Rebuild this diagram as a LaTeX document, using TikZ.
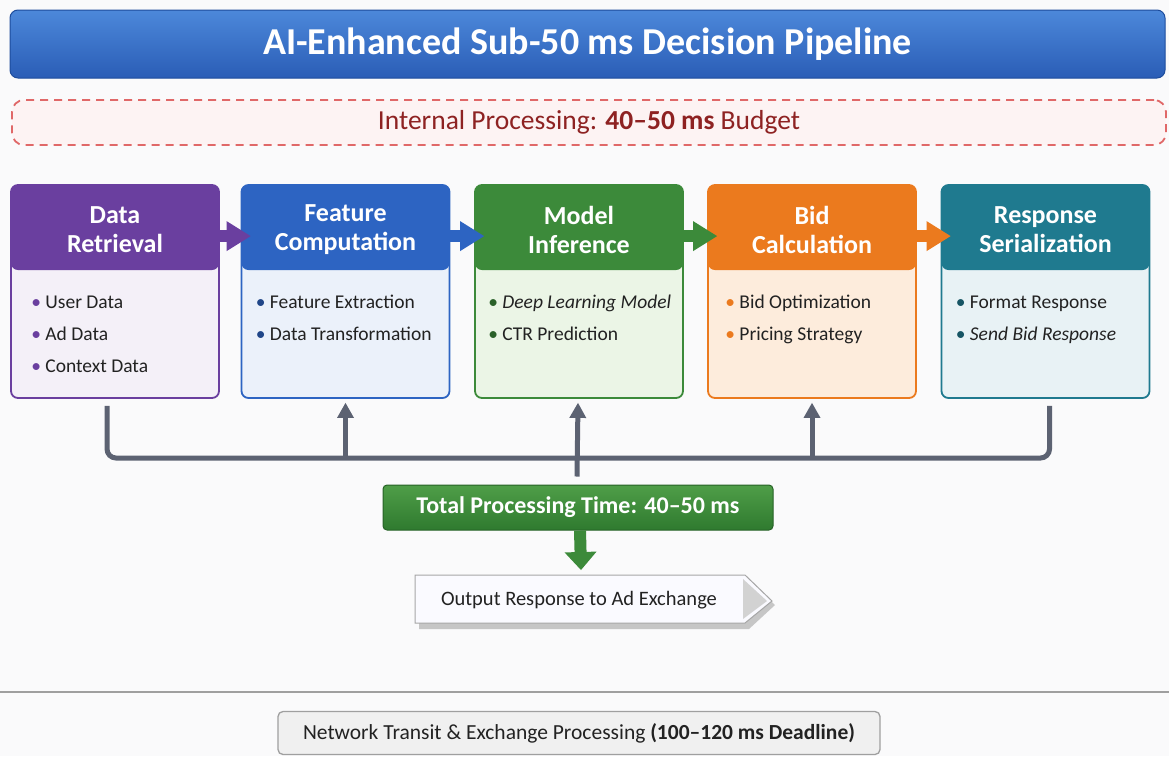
\documentclass[tikz,border=0pt]{standalone}
\usepackage{fontspec}
\setmainfont{Carlito}
\usetikzlibrary{arrows.meta}
\definecolor{bgc}{HTML}{FAFAFB}
\definecolor{titleT}{HTML}{4C88DA}
\definecolor{titleB}{HTML}{2A5DB6}
\definecolor{titleD}{HTML}{1D4C9C}
\definecolor{dashR}{HTML}{E06868}
\definecolor{dashF}{HTML}{FDF3F3}
\definecolor{budR}{HTML}{8E2222}
\definecolor{pH}{HTML}{6A3F9F}\definecolor{pB}{HTML}{F4F0F8}
\definecolor{bH}{HTML}{2D64C2}\definecolor{bB}{HTML}{EBF1FA}
\definecolor{gH}{HTML}{3C8A3A}\definecolor{gB}{HTML}{EBF5E6}
\definecolor{oH}{HTML}{EB7A1E}\definecolor{oB}{HTML}{FDECDC}
\definecolor{tH}{HTML}{1F7A8F}\definecolor{tB}{HTML}{E8F2F5}
\definecolor{txt}{HTML}{222222}
\definecolor{conn}{HTML}{5C6272}
\definecolor{totT}{HTML}{4F9E48}\definecolor{totB}{HTML}{2F7A2F}
\tikzset{
  stage/.style n args={2}{rectangle, rounded corners=7pt, minimum width=208pt,
    minimum height=213pt, inner sep=0pt, fill=#2, draw=#1, line width=1.8pt,
    path picture={\fill[#1] (path picture bounding box.north west) rectangle ([yshift=-85pt]path picture bounding box.north east);}},
  hdr/.style={text=white, align=center, inner sep=0pt, font=\bfseries\fontsize{26}{29}\selectfont},
  items/.style={anchor=base west, align=left, text=txt, inner sep=0pt, font=\fontsize{19.5}{32}\selectfont},
  flow/.style={draw=#1, line width=12pt, -{Triangle[width=30pt,length=24pt,line width=0pt]}},
  bus/.style={draw=conn, line width=5pt},
  uparrow/.style={draw=conn, line width=5pt, -{Triangle[width=17pt,length=15pt,line width=0pt]}},
}
\begin{document}
\begin{tikzpicture}[x=1pt,y=-1pt]
\useasboundingbox (0,0) rectangle (1169,756);
\fill[bgc] (0,0) rectangle (1169,756);
% title
\node[rectangle, rounded corners=8pt, minimum width=1155pt, minimum height=68pt,
  top color=titleT, bottom color=titleB, draw=titleD, line width=1pt,
  text=white, font=\bfseries\fontsize{38}{42}\selectfont] (title) at (587.5,44) {AI-Enhanced Sub-50 ms Decision Pipeline};
% budget
\node[rectangle, rounded corners=12pt, minimum width=1154pt, minimum height=45pt,
  fill=dashF, draw=dashR, line width=1.8pt, dash pattern=on 8pt off 6pt,
  text=budR, font=\fontsize{27.5}{30}\selectfont] (budget) at (589,122.5) {Internal Processing: \textbf{40--50 ms} Budget};
% stages
\node[stage={pH}{pB}] (s1) at (115,291.5) {};
\node[stage={bH}{bB}] (s2) at (345.5,291.5) {};
\node[stage={gH}{gB}] (s3) at (579,291.5) {};
\node[stage={oH}{oB}] (s4) at (812,291.5) {};
\node[stage={tH}{tB}] (s5) at (1045.5,291.5) {};
\node[hdr] (h1) at ([yshift=-46pt]s1.north) {Data\\Retrieval};
\node[hdr] (h2) at ([yshift=-46pt]s2.north) {Feature\\Computation};
\node[hdr] (h3) at ([yshift=-46pt]s3.north) {Model\\Inference};
\node[hdr] (h4) at ([yshift=-46pt]s4.north) {Bid\\Calculation};
\node[hdr] (h5) at ([yshift=-46pt]s5.north) {Response\\Serialization};
\node[items] (i1) at ([xshift=21pt,yshift=-188pt]s1.north west)
  {\textcolor{pH}{\textbullet}\ User Data\\\textcolor{pH}{\textbullet}\ Ad Data\\\textcolor{pH}{\textbullet}\ Context Data};
\node[items] (i2) at ([xshift=15pt,yshift=-156pt]s2.north west)
  {\textcolor{bH!70!black}{\textbullet}\ Feature Extraction\\\textcolor{bH!70!black}{\textbullet}\ Data Transformation};
\node[items] (i3) at ([xshift=14pt,yshift=-156pt]s3.north west)
  {\textcolor{gH!70!black}{\textbullet}\ \textit{Deep Learning Model}\\\textcolor{gH!70!black}{\textbullet}\ CTR Prediction};
\node[items] (i4) at ([xshift=18pt,yshift=-156pt]s4.north west)
  {\textcolor{oH}{\textbullet}\ Bid Optimization\\\textcolor{oH}{\textbullet}\ Pricing Strategy};
\node[items] (i5) at ([xshift=15pt,yshift=-156pt]s5.north west)
  {\textcolor{tH!70!black}{\textbullet}\ Format Response\\\textcolor{tH!70!black}{\textbullet}\ \textit{Send Bid Response}};
% flow arrows
\draw[flow=pH] ([xshift=-11pt,yshift=-52pt]s1.north east) -- ([xshift=10pt,yshift=-52pt]s2.north west);
\draw[flow=bH] ([xshift=-11pt,yshift=-52pt]s2.north east) -- ([xshift=10pt,yshift=-52pt]s3.north west);
\draw[flow=gH] ([xshift=-11pt,yshift=-52pt]s3.north east) -- ([xshift=10pt,yshift=-52pt]s4.north west);
\draw[flow=oH] ([xshift=-11pt,yshift=-52pt]s4.north east) -- ([xshift=10pt,yshift=-52pt]s5.north west);
% total
\node[rectangle, rounded corners=4pt, minimum width=390pt, minimum height=45pt,
  top color=totT, bottom color=totB, draw=totB!80!black, line width=1pt,
  text=white, font=\fontsize{24}{27}\selectfont] (tot) at (578,507.5) {\textbf{Total Processing Time: 40--50 ms}};
% bus
\coordinate (cL) at ([xshift=-8pt,yshift=-7pt]s1.south);
\coordinate (cR) at ([xshift=4pt,yshift=-7pt]s5.south);
\coordinate (busL) at (107,458);
\draw[bus, rounded corners=9pt] (cL) -- (cL |- busL) -- (cR |- busL) -- (cR);
\draw[uparrow] (s2.south |- busL) -- ([yshift=-4pt]s2.south);
\draw[uparrow] ([xshift=-1pt,yshift=8pt]tot.north) -- ([xshift=-1pt,yshift=-4pt]s3.south);
\draw[uparrow] (s4.south |- busL) -- ([yshift=-4pt]s4.south);
% output
\fill[gray!45] (419,580) -- (749,580) -- (775,605) -- (749,629) -- (419,629) -- cycle;
\filldraw[fill=white!95!blue!40!white, draw=gray!70, line width=1pt] (415,575) -- (745,575) -- (772,601) -- (745,623) -- (415,623) -- cycle;
\fill[gray!35] (743,579) -- (767,601) -- (743,619) -- cycle;
\node[text=txt, font=\fontsize{20.5}{24}\selectfont] (out) at (579,600) {Output Response to Ad Exchange};
\draw[draw=gH, line width=12pt, -{Triangle[width=32pt,length=18pt,line width=0pt]}] ([xshift=2pt]tot.south) -- ([xshift=2pt,yshift=5pt]out.north |- 0,575);
% separator
\draw[gray!75, line width=1.5pt] (0,692) -- (1169,692);
% network
\node[rectangle, rounded corners=5pt, minimum width=602pt, minimum height=43pt,
  fill=gray!12, draw=gray!75, line width=1.3pt, text=txt,
  font=\fontsize{21.5}{25}\selectfont] (net) at (579,733) {Network Transit \& Exchange Processing \textbf{(100--120 ms Deadline)}};
\end{tikzpicture}
\end{document}
